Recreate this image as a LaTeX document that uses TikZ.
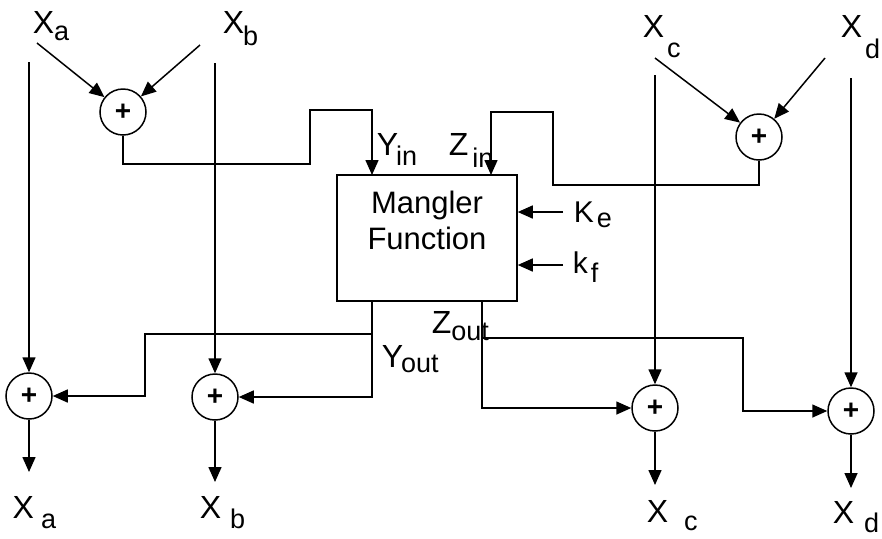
\documentclass[tikz,border=0pt]{standalone}
\usepackage{fontspec}
\setmainfont{Liberation Sans}
\usetikzlibrary{arrows.meta}
\newcommand{\lbl}[4]{#1\hspace{#3}\raisebox{-#4}{\fontsize{13.5}{13.5}\selectfont #2}}

\begin{document}
\begin{tikzpicture}[x=0.5pt, y=-0.5pt, line width=0.75pt, >={Triangle[length=7.5pt,width=6.5pt]}]
	% Define styles
	\tikzstyle{adder} = [circle, draw, minimum size=23pt, inner sep=0pt, font=\fontsize{14}{14}\selectfont\bfseries]
	\tikzstyle{manglerbox} = [rectangle, draw, minimum width=90pt, minimum height=63pt, align=center, font=\fontsize{15.5}{18}\selectfont]
	\tikzstyle{signal} = [anchor=base west, inner sep=0pt, font=\fontsize{16}{16}\selectfont]
	\useasboundingbox (0,0) rectangle (882,538);
	
	% Nodes
	\node[adder] (addab) at (123,112) {+};
	\node[adder] (addcd) at (759,137) {+};
	\node[adder] (adda) at (29,396) {+};
	\node[adder] (addb) at (215,397) {+};
	\node[adder] (addc) at (655,408) {+};
	\node[adder] (addd) at (851,411) {+};
	\node[manglerbox] (mangler) at (427,238) {Mangler\\Function\\\mbox{}};
	
	% Labels
	\node[signal] (xa) at (32,33) {\lbl{X}{a}{0pt}{3.5pt}};
	\node[signal] (xb) at (222,33) {\lbl{X}{b}{-0.5pt}{6pt}};
	\node[signal] (xc) at (642,37) {\lbl{X}{c}{1.5pt}{10pt}};
	\node[signal] (xd) at (840,37) {\lbl{X}{d}{1.5pt}{10.5pt}};
	\node[signal] (xaout) at (12,518) {\lbl{X}{a}{3.5pt}{5pt}};
	\node[signal] (xbout) at (199,518) {\lbl{X}{b}{4.5pt}{5pt}};
	\node[signal] (xcout) at (646,522) {\lbl{X}{c}{8pt}{4pt}};
	\node[signal] (xdout) at (832,523) {\lbl{X}{d}{5pt}{4.5pt}};
	\node[signal] (yinlbl) at (376,155) {\lbl{Y}{in}{-1pt}{5pt}};
	\node[signal] (zinlbl) at (448,155) {\lbl{Z}{in}{2pt}{6pt}};
	\node[signal, font=\fontsize{15}{15}\selectfont] (kelbl) at (573,222) {\lbl{K}{e}{1.5pt}{2.5pt}};
	\node[signal, font=\fontsize{15}{15}\selectfont] (kflbl) at (572,273) {\lbl{k}{f}{1.5pt}{4.5pt}};
	\node[signal] (youtlbl) at (381,367) {\lbl{Y}{out}{-1pt}{2.5pt}};
	\node[signal] (zoutlbl) at (431,333) {\lbl{Z}{out}{0pt}{3.5pt}};
	
	% Coordinates
	\coordinate (xa-in) at (37,43);
	\coordinate (xb-in) at (200,45);
	\coordinate (xc-in) at (655,58);
	\coordinate (xd-in) at (825,58);
	\coordinate (a-top) at (29,62);
	\coordinate (b-top) at (215,63);
	\coordinate (c-top) at (655,75);
	\coordinate (d-top) at (851,78);
	\coordinate (yin) at (372,175);
	\coordinate (zin) at (491,175);
	\coordinate (ke) at (563,212);
	\coordinate (kf) at (563,265);
	\coordinate (yout) at (372,301);
	\coordinate (ysplit) at (372,334);
	\coordinate (ya) at (145,396);
	\coordinate (zout) at (482,301);
	\coordinate (zsplit) at (482,338);
	\coordinate (zd) at (743,411);
	\coordinate (oa) at (29,472);
	\coordinate (ob) at (215,482);
	\coordinate (oc) at (655,485);
	\coordinate (od) at (851,488);
	
	% Arrows
	\draw[->] (xa-in) -- (addab);
	\draw[->] (xb-in) -- (addab);
	\draw[->] (xc-in) -- (addcd);
	\draw[->] (xd-in) -- (addcd);
	\draw[->] (a-top) -- (adda);
	\draw[->] (b-top) -- (addb);
	\draw[->] (c-top) -- (addc);
	\draw[->] (d-top) -- (addd);
	\draw[->] (addab.south) -- ++(0,28) -| (310,110) -| (yin);
	\draw[->] (addcd.south) |- (553,185) |- (491,112) -- (zin);
	\draw[->] (ke) -- (ke -| mangler.east);
	\draw[->] (kf) -- (kf -| mangler.east);
	\draw[->] (yout) |- (addb);
	\draw[->] (ysplit) -| (ya) -- (adda);
	\draw[->] (zout) |- (addc);
	\draw[->] (zsplit) -| (zd) -- (addd);
	\draw[->] (adda) -- (oa);
	\draw[->] (addb) -- (ob);
	\draw[->] (addc) -- (oc);
	\draw[->] (addd) -- (od);
\end{tikzpicture}
\end{document}
